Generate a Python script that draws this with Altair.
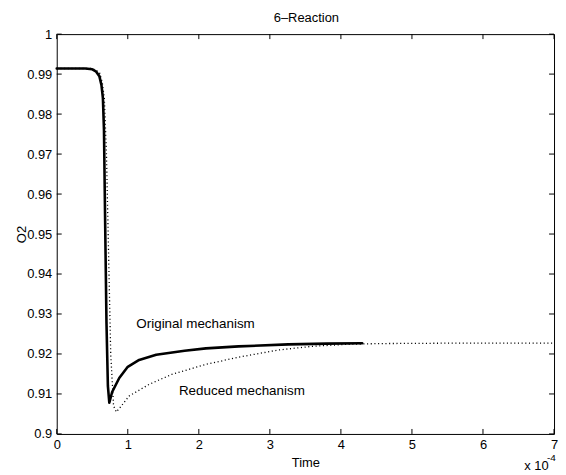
import altair as alt
import pandas as pd

# Time in units of 1e-4
orig_t = [0.0, 0.40, 0.50, 0.55, 0.60, 0.63, 0.65, 0.665, 0.68, 0.70, 0.72, 0.74, 0.78, 0.88, 1.00, 1.16,
          1.40, 1.80, 2.10, 2.56, 3.26, 3.80, 4.30]
orig_v = [0.9914, 0.9914, 0.9912, 0.9907, 0.9895, 0.9872, 0.9840, 0.9760, 0.9550, 0.9280, 0.9120, 0.9078,
          0.9105, 0.9140, 0.9168, 0.9185, 0.9198, 0.9208, 0.9214, 0.9219, 0.9224, 0.9226, 0.9227]

red_t = [0.0, 0.50, 0.60, 0.64, 0.67, 0.70, 0.73, 0.76, 0.80, 0.84, 0.90, 1.02, 1.30, 1.62, 2.10, 2.56,
         3.12, 3.59, 4.06, 4.52, 5.50, 7.00]
red_v = [0.9914, 0.9914, 0.9905, 0.9880, 0.9840, 0.9700, 0.9450, 0.9200, 0.9070, 0.9055, 0.9068, 0.9095,
         0.9124, 0.9149, 0.9174, 0.9192, 0.9210, 0.9219, 0.9224, 0.9226, 0.9227, 0.9227]

x_ticks = [0, 1, 2, 3, 4, 5, 6, 7]
y_ticks = [0.9, 0.91, 0.92, 0.93, 0.94, 0.95, 0.96, 0.97, 0.98, 0.99, 1.0]

ann_labels = ["Original mechanism", "Reduced mechanism"]
ann_t = [1.12, 1.72]
ann_v = [0.9276, 0.9107]

title_text = ["6\u2013Reaction"]

W, H = 500, 402
FONT = "Liberation Sans"
TICK = 5

xs = alt.Scale(domain=[0, 7], nice=False)
ys = alt.Scale(domain=[0.9, 1.0], nice=False, zero=False)

xaxis = alt.Axis(values=x_ticks, title="Time", tickSize=0, domain=False, grid=False,
                 labelFlush=False, labelPadding=5, titlePadding=5, format="d")
yaxis = alt.Axis(values=y_ticks, title="O2", tickSize=0, domain=False, grid=False,
                 labelFlush=False, labelPadding=5, titlePadding=-2,
                 labelExpr="format(datum.value, '.2~f')")

X = alt.X("t:Q", scale=xs, axis=xaxis)
Y = alt.Y("v:Q", scale=ys, axis=yaxis)

orig = pd.DataFrame({"t": orig_t, "v": orig_v})
red = pd.DataFrame({"t": red_t, "v": red_v})
ann = pd.DataFrame({"t": ann_t, "v": ann_v, "label": ann_labels})
xt = pd.DataFrame({"t": x_ticks})
yt = pd.DataFrame({"v": y_ticks})

red_line = alt.Chart(red).mark_line(color="black", strokeWidth=1.3, strokeDash=[1.1, 2.6]).encode(
    x=X, y=Y, order="t:Q")
orig_line = alt.Chart(orig).mark_line(color="black", strokeWidth=2.6, strokeJoin="round",
                                      strokeCap="round").encode(x=X, y=Y, order="t:Q")

text = alt.Chart(ann).mark_text(align="left", baseline="middle", font=FONT, fontSize=13.5,
                                color="black").encode(x=X, y=Y, text="label:N")

tb = alt.Chart(xt).mark_rule(color="black", strokeWidth=1).encode(
    x=X, y=alt.value(H), y2=alt.value(H - TICK))
tt = alt.Chart(xt).mark_rule(color="black", strokeWidth=1).encode(
    x=X, y=alt.value(0), y2=alt.value(TICK))
tl = alt.Chart(yt).mark_rule(color="black", strokeWidth=1).encode(
    y=Y, x=alt.value(0), x2=alt.value(TICK))
tr = alt.Chart(yt).mark_rule(color="black", strokeWidth=1).encode(
    y=Y, x=alt.value(W), x2=alt.value(W - TICK))

title = alt.Chart(pd.DataFrame({"s": title_text})).mark_text(
    align="center", baseline="middle", font=FONT, fontSize=13, color="black").encode(
    text="s:N", x=alt.value(251), y=alt.value(-16))
mult = alt.Chart(pd.DataFrame({"s": ["x 10"]})).mark_text(
    align="left", baseline="alphabetic", font=FONT, fontSize=13, color="black").encode(
    text="s:N", x=alt.value(470), y=alt.value(438))
expo = alt.Chart(pd.DataFrame({"s": ["-4"]})).mark_text(
    align="left", baseline="alphabetic", font=FONT, fontSize=10, color="black").encode(
    text="s:N", x=alt.value(493), y=alt.value(429))

chart = alt.layer(red_line, orig_line, text, tb, tt, tl, tr, title, mult, expo).properties(
    width=W, height=H,
    padding={"left": 49, "top": 25, "right": 4, "bottom": 38},
    autosize="none",
    background="white",
).configure_view(stroke="black", strokeWidth=1).configure_axis(
    labelFont=FONT, labelFontSize=13, labelColor="black",
    titleFont=FONT, titleFontSize=13, titleColor="black", titleFontWeight="normal")

chart.save("out.html", embed_options={"renderer": "svg", "actions": False})
